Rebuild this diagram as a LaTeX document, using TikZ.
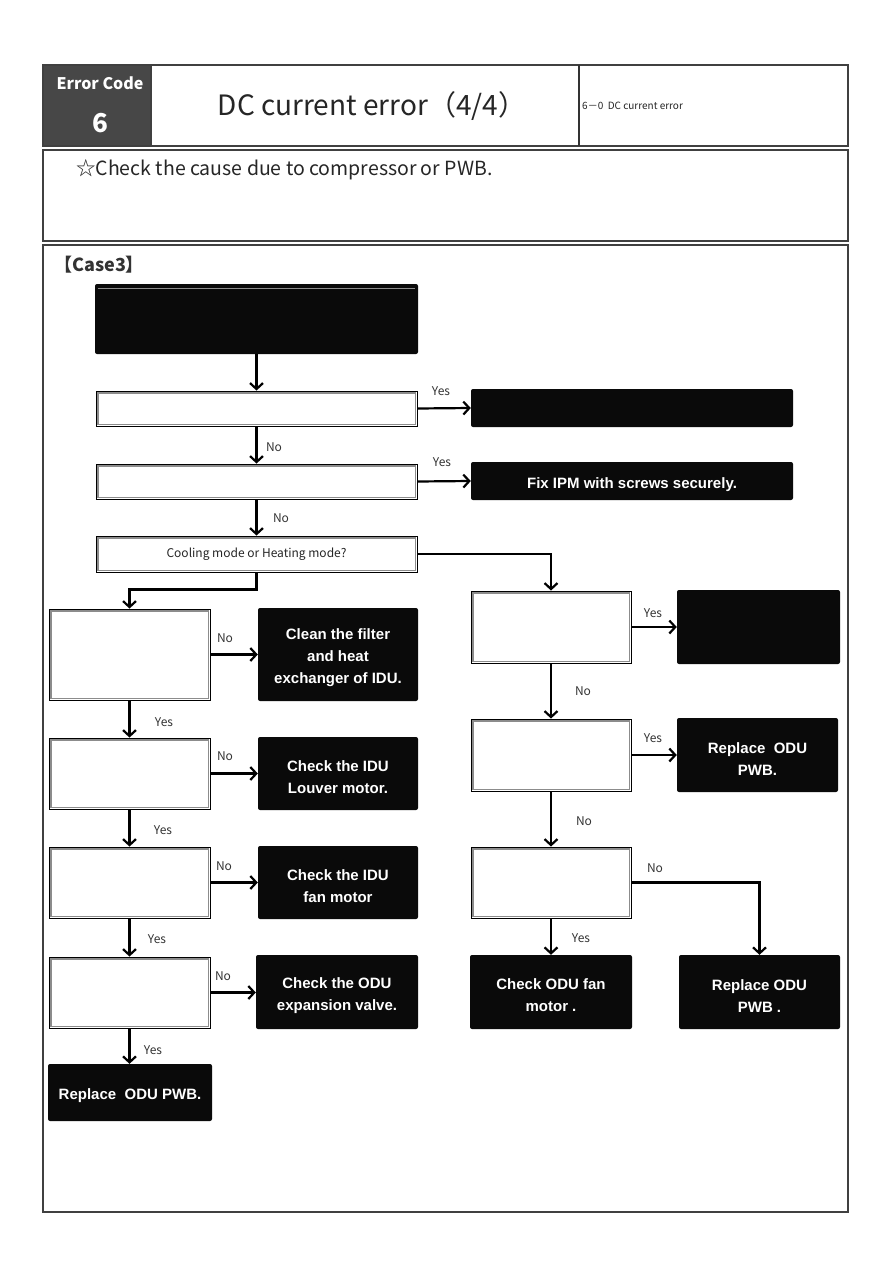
\documentclass[tikz,border=0pt]{standalone}
\usepackage{fontspec}
\setmainfont{Liberation Sans}
\newfontfamily\cjk{Noto Sans CJK JP}
\usetikzlibrary{arrows.meta,calc}
\newcommand{\tallstrut}{\rule{0pt}{18pt}}
\begin{document}
\begin{tikzpicture}[x=1pt,y=-1pt,
  dec/.style={draw=black, line width=0.9pt, fill=white, inner sep=0pt, align=center, font=\cjk\fontsize{12}{14}\selectfont, text=black!85},
  inner/.style={draw=black!45, line width=1.1pt},
  blk/.style={fill=black!96, rounded corners=2pt, text=white, inner sep=0pt, align=center, font=\bfseries\fontsize{15}{22}\selectfont},
  lab/.style={font=\cjk\fontsize{12}{14}\selectfont, text=black!80, inner sep=0pt},
  arr/.style={line width=2.2pt, -{Straight Barb[length=6pt,width=13pt,line width=2.2pt]}},
  frame/.style={draw=black!75, line width=1.8pt}
]
\useasboundingbox (0,0) rectangle (893,1263);
\fill[white] (0,0) rectangle (893,1263);

% header
\fill[black!72] (43,65) rectangle (151,146);
\draw[frame] (43,65) rectangle (848,146);
\draw[frame] (151,65) -- (151,146);
\draw[line width=1.2pt, black!80] (579,65) -- (579,146);
\node[text=white, font=\cjk\bfseries\fontsize{16}{18}\selectfont] (ec) at (100,83) {Error Code};
\node[text=white, font=\cjk\bfseries\fontsize{26}{30}\selectfont] (en) at (100,123) {6};
\node[font=\cjk\fontsize{28}{32}\selectfont, text=black!85] (title) at (372,106) {DC current error（4/4）};
\node[anchor=west, font=\cjk\fontsize{10}{12}\selectfont, text=black!85, inner sep=0pt] (ref) at (582,106) {6－0\ \ DC current error};

% box 2
\draw[frame] (43,150) rectangle (848,241);
\node[anchor=west, font=\cjk\fontsize{19.5}{22}\selectfont, text=black!85, inner sep=0pt] (note) at (76,170) {☆Check the cause due to compressor or PWB.};

% box 3
\draw[frame] (43,245) rectangle (848,1212);
\node[anchor=west, font=\cjk\bfseries\fontsize{18}{21}\selectfont, text=black!80, inner sep=0pt] (case) at (54,265) {【Case3】};

% top
\node[blk, minimum width=323pt, minimum height=70pt] (top) at (256.5,319) {};
\draw[black!45, line width=0.5pt] ($(top.north west)+(3,4)$) -- ($(top.north east)+(-3,4)$);

\node[dec, minimum width=321pt, minimum height=35pt] (d1) at (256.5,408.5) {};
\node[blk, minimum width=322pt, minimum height=38pt] (r1) at (632,408) {};
\node[dec, minimum width=321pt, minimum height=35pt] (d2) at (256.5,481.5) {};
\node[blk, minimum width=322pt, minimum height=38pt] (r2) at (632,481) {\tallstrut Fix IPM with screws securely.};
\node[dec, minimum width=321pt, minimum height=36pt] (d3) at (256.5,554) {Cooling mode or Heating mode?};

% left column
\node[dec, minimum width=161pt, minimum height=91pt] (l1) at (129.5,654.5) {};
\node[blk, minimum width=160pt, minimum height=93pt] (a1) at (338,654.5) {\tallstrut Clean the filter\\and heat\\exchanger of IDU.};
\node[dec, minimum width=161pt, minimum height=71pt] (l2) at (129.5,773.5) {};
\node[blk, minimum width=160pt, minimum height=73pt] (a2) at (338,773.5) {\tallstrut Check the IDU\\Louver motor.};
\node[dec, minimum width=161pt, minimum height=71pt] (l3) at (129.5,882.5) {};
\node[blk, minimum width=160pt, minimum height=73pt] (a3) at (338,882.5) {\tallstrut Check the IDU\\fan motor};
\node[dec, minimum width=161pt, minimum height=71pt] (l4) at (129.5,992.5) {};
\node[blk, minimum width=162pt, minimum height=74pt] (a4) at (337,992) {\tallstrut Check the ODU\\expansion valve.};
\node[blk, minimum width=164pt, minimum height=57pt] (a5) at (130,1092.5) {\tallstrut Replace\ \ ODU PWB.};

% right column
\node[dec, minimum width=160pt, minimum height=72pt] (q1) at (551,627) {};
\node[blk, minimum width=163pt, minimum height=74pt] (b1) at (758.5,627) {};
\node[dec, minimum width=160pt, minimum height=72pt] (q2) at (551,755) {};
\node[blk, minimum width=161pt, minimum height=74pt] (b2) at (757.5,755) {\tallstrut Replace\ \ ODU\\PWB.};
\node[dec, minimum width=160pt, minimum height=71pt] (q3) at (551,882.5) {};
\node[blk, minimum width=162pt, minimum height=74pt] (b3) at (551,992) {\tallstrut Check ODU fan\\motor .};
\node[blk, minimum width=161pt, minimum height=74pt] (b4) at (759.5,992) {\tallstrut Replace ODU\\PWB .};

% inner lines of the decision boxes
\foreach \n in {d1,d2,d3,l1,l2,l3,l4,q1,q2,q3}
  \draw[inner] ($(\n.south west)+(2.4,-2.4)$) rectangle ($(\n.north east)+(-2.4,2.4)$);

% connectors
\draw[arr] (top.south) -- (d1.north);
\draw[arr] (d1.east) -- (r1.west);
\draw[arr] (d1.south) -- (d2.north);
\draw[arr] (d2.east) -- (r2.west);
\draw[arr] (d2.south) -- (d3.north);
\draw[arr] (d3.south) -- ++(0,17) -| (l1.north);
\draw[arr] (d3.east) -| (q1.north);

\draw[arr] (l1.east) -- (l1.east -| a1.west);
\draw[arr] (l1.south) -- (l2.north);
\draw[arr] (l2.east) -- (l2.east -| a2.west);
\draw[arr] (l2.south) -- (l3.north);
\draw[arr] (l3.east) -- (l3.east -| a3.west);
\draw[arr] (l3.south) -- (l4.north);
\draw[arr] (l4.east) -- (l4.east -| a4.west);
\draw[arr] (l4.south) -- (l4.south |- a5.north);

\draw[arr] (q1.east) -- (b1.west);
\draw[arr] (q1.south) -- (q2.north);
\draw[arr] (q2.east) -- (b2.west);
\draw[arr] (q2.south) -- (q3.north);
\draw[arr] (q3.east) -| (b4.north);
\draw[arr] (q3.south) -- (b3.north);

% labels
\node[lab] (t1) at (441,391) {Yes};
\node[lab] (t2) at (274,447) {No};
\node[lab] (t3) at (442,462) {Yes};
\node[lab] (t4) at (281,518) {No};
\node[lab] (t5) at (225,638) {No};
\node[lab] (t6) at (164,722) {Yes};
\node[lab] (t7) at (225,756) {No};
\node[lab] (t8) at (163,830) {Yes};
\node[lab] (t9) at (224,866) {No};
\node[lab] (t10) at (157,939) {Yes};
\node[lab] (t11) at (223,976) {No};
\node[lab] (t12) at (153,1050) {Yes};
\node[lab] (t13) at (653,613) {Yes};
\node[lab] (t14) at (583,691) {No};
\node[lab] (t15) at (653,738) {Yes};
\node[lab] (t16) at (584,821) {No};
\node[lab] (t17) at (655,868) {No};
\node[lab] (t18) at (581,938) {Yes};
\end{tikzpicture}
\end{document}
